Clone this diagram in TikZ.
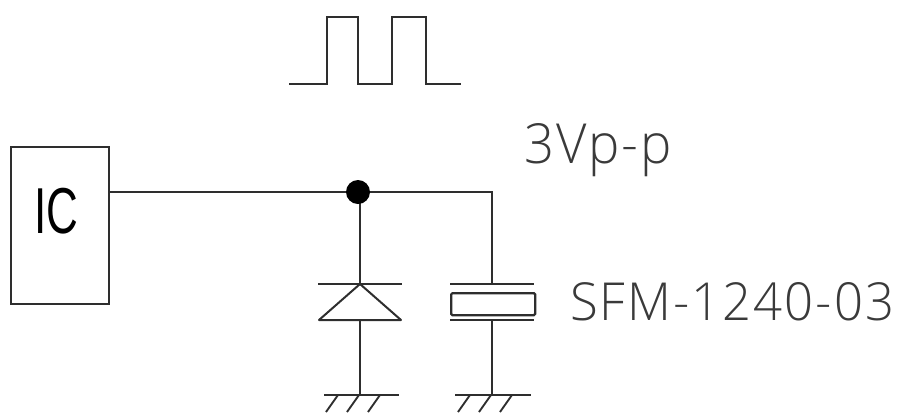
\documentclass[tikz,border=0pt]{standalone}
\usepackage{fontspec}
\setmainfont{Liberation Sans}
\newfontfamily\thinfont[UprightFont=* Light,LetterSpace=4]{Open Sans}
\definecolor{ink}{HTML}{2E2E2E}
\definecolor{txt}{HTML}{3A3A3A}
\tikzset{
  wire/.style={draw=ink,line width=1.7pt},
  thinlabel/.style={inner sep=0pt,anchor=base west,text=txt,font=\thinfont\fontsize{40pt}{40pt}\selectfont},
  plate/.style={draw=ink,line width=1.5pt},
  hatch/.style={draw=ink,line width=1.4pt}
}
\begin{document}
\begin{tikzpicture}[x=0.75pt,y=-0.75pt]
\useasboundingbox (0,0) rectangle (901,412);
% IC
\node[draw=ink,line width=1.7pt,minimum width=73.5pt,minimum height=117.75pt,inner sep=0pt,anchor=north west] (ic) at (10,146) {};
\node[inner sep=0pt,anchor=base west,text=black] (iclabel) at (34,233) {\resizebox{33pt}{34pt}{\fontsize{47pt}{47pt}\selectfont IC}};
% junction and wire
\coordinate (j) at (358,192);
\coordinate (xt) at (492,192);
\coordinate (dtop) at (360,284);
\coordinate (dbase) at (360,320);
\coordinate (dgnd) at (360,395);
\coordinate (xbot) at (492,320);
\coordinate (xgnd) at (492,395);
\coordinate (xtop) at (492,284);
\draw[wire] (ic.east |- j) -- (j) -- (xt) -- (xtop);
\draw[wire] (j -| dtop) -- (dtop);
\fill[black] (j) circle (9pt);
% diode
\draw[plate] (318,284) -- (402,284);
\draw[plate,line join=round] (dtop) -- (401,320) -- (319,320) -- cycle;
\draw[wire] (dbase) -- (dgnd);
% crystal
\draw[plate] (450,284) -- (534,284);
\node[draw=ink,line width=1.7pt,rounded corners=1pt,minimum width=63pt,minimum height=16.5pt,inner sep=0pt,anchor=north west] (xtal) at (450,292) {};
\draw[plate] (450,320) -- (534,320);
\draw[wire] (xbot) -- (xgnd);
% grounds
\draw[plate] (324,395) -- (399,395);
\draw[hatch] (338,395) -- (326,412) (359,395) -- (347,412) (380,395) -- (368,412);
\draw[plate] (455,395) -- (531,395);
\draw[hatch] (470,395) -- (458,412) (491,395) -- (479,412) (512,395) -- (500,412);
% pulse
\draw[wire,line join=miter] (289,84) -- (327,84) -- (327,17) -- (358,17) -- (358,84) -- (392,84) -- (392,17) -- (426,17) -- (426,84) -- (461,84);
% labels
\node[thinlabel] (amp) at (524,163) {\resizebox{111pt}{30pt}{3Vp-p}};
\node[thinlabel] (part) at (570,320) {\resizebox{243pt}{28.5pt}{SFM-1240-03}};
\end{tikzpicture}
\end{document}
